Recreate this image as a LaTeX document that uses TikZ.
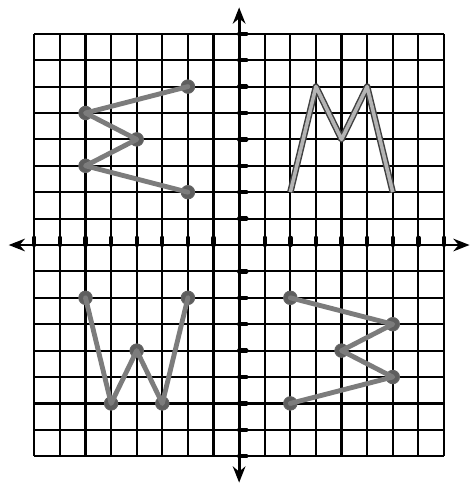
\documentclass[tikz,border=0pt]{standalone}
\usepackage{tikz}
\usetikzlibrary{arrows.meta}
\definecolor{penline}{HTML}{7C7C7C}
\definecolor{pendot}{HTML}{5E5E5E}
\definecolor{mfill}{HTML}{B4B4B4}

\begin{document}
\begin{tikzpicture}[x=0.5cm,y=0.5156cm,
    dot/.style={circle,fill=pendot,draw=black!60,line width=0.5pt,inner sep=0pt,minimum size=7.5pt},
    pen/.style={line width=2.7pt,penline,line cap=round,line join=round},
    mpen/.style={draw=black!75,double=mfill,double distance=2pt,line width=0.8pt,line join=round},
    tick/.style={line width=2.4pt,line cap=round}]
        \useasboundingbox (-9.34,-9.09) rectangle (9.06,9.28);
        \draw[line width=1.2pt,xstep=1,ystep=1] (-8,-8) grid (8,8);
        \draw[line width=1.6pt,{Stealth[open,fill=white,length=9pt,width=7pt]}-{Stealth[open,fill=white,length=9pt,width=7pt]}] (-9,0) -- (9,0);
        \draw[line width=1.6pt,{Stealth[open,fill=white,length=9pt,width=7pt]}-{Stealth[open,fill=white,length=9pt,width=7pt]}] (0,-9) -- (0,9);
        \foreach \k in {-8,...,-1,1,2,...,8} {
          \draw[tick] (\k,0) -- ++(0,4pt);
          \draw[tick] (0,\k) -- ++(4pt,0);
        }
        % upper left
        \node[dot] (nw1) at (-2,6) {};
        \node[dot] (nw2) at (-6,5) {};
        \node[dot] (nw3) at (-4,4) {};
        \node[dot] (nw4) at (-6,3) {};
        \node[dot] (nw5) at (-2,2) {};
        \draw[pen] (nw1.center) -- (nw2.center) -- (nw3.center) -- (nw4.center) -- (nw5.center);
        % upper right
        \coordinate (ne1) at (2,2);
        \coordinate (ne2) at (3,6);
        \coordinate (ne3) at (4,4);
        \coordinate (ne4) at (5,6);
        \coordinate (ne5) at (6,2);
        \draw[mpen] (ne1) -- (ne2) -- (ne3) -- (ne4) -- (ne5);
        % lower left
        \node[dot] (sw1) at (-6,-2) {};
        \node[dot] (sw2) at (-5,-6) {};
        \node[dot] (sw3) at (-4,-4) {};
        \node[dot] (sw4) at (-3,-6) {};
        \node[dot] (sw5) at (-2,-2) {};
        \draw[pen] (sw1.center) -- (sw2.center) -- (sw3.center) -- (sw4.center) -- (sw5.center);
        % lower right
        \node[dot] (se1) at (2,-2) {};
        \node[dot] (se2) at (6,-3) {};
        \node[dot] (se3) at (4,-4) {};
        \node[dot] (se4) at (6,-5) {};
        \node[dot] (se5) at (2,-6) {};
        \draw[pen] (se1.center) -- (se2.center) -- (se3.center) -- (se4.center) -- (se5.center);
\end{tikzpicture}
\end{document}
